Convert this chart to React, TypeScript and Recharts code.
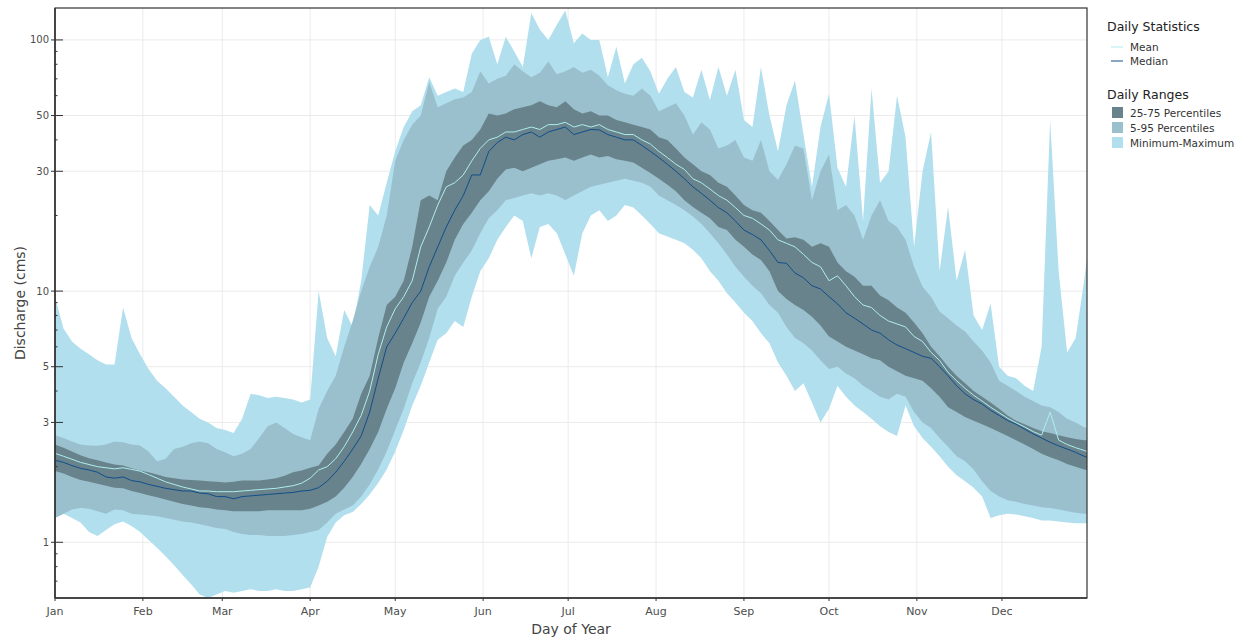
import React from 'react';
import { ComposedChart, Area, Line, XAxis, YAxis, CartesianGrid } from 'recharts';

const days = [
  1, 4, 7, 10, 13, 16, 19, 22, 25, 28,
  31, 34, 37, 40, 43, 46, 49, 52, 55, 58,
  61, 64, 67, 70, 73, 76, 79, 82, 85, 88,
  91, 94, 97, 100, 103, 106, 109, 112, 115, 118,
  121, 124, 127, 130, 133, 136, 139, 142, 145, 148,
  151, 154, 157, 160, 163, 166, 169, 172, 175, 178,
  181, 184, 187, 190, 193, 196, 199, 202, 205, 208,
  211, 214, 217, 220, 223, 226, 229, 232, 235, 238,
  241, 244, 247, 250, 253, 256, 259, 262, 265, 268,
  271, 274, 277, 280, 283, 286, 289, 292, 295, 298,
  301, 304, 307, 310, 313, 316, 319, 322, 325, 328,
  331, 334, 337, 340, 343, 346, 349, 352, 355, 358,
  361, 364, 365,
];

const minimum = [
  1.25, 1.3, 1.25, 1.2, 1.1, 1.06, 1.12, 1.18, 1.21, 1.16,
  1.1, 1.02, 0.95, 0.88, 0.81, 0.74, 0.68, 0.62, 0.6, 0.62,
  0.64, 0.63, 0.64, 0.65, 0.64, 0.64, 0.65, 0.64, 0.64, 0.65,
  0.66, 0.8, 1.05, 1.2, 1.28, 1.32, 1.42, 1.55, 1.72, 1.95,
  2.3, 2.8, 3.5, 4.2, 5.2, 6.4, 6.8, 7.6, 7.2, 9.5,
  12, 13.5, 16, 18, 20, 19, 13.5, 18, 18.5, 17,
  14, 11.5, 17, 20, 21, 19, 20, 22, 21.5, 20,
  18.5, 17, 16.5, 16, 15.5, 14.6, 13.5, 12, 11, 9.8,
  9, 8.2, 7.6, 6.8, 6.2, 5.2, 4.6, 4.0, 4.3, 3.6,
  3.0, 3.4, 4.2, 3.8, 3.5, 3.3, 3.1, 2.9, 2.75, 2.65,
  3.5, 2.9, 2.6, 2.4, 2.2, 2.0, 1.85, 1.75, 1.65, 1.52,
  1.25, 1.28, 1.3, 1.29, 1.27, 1.25, 1.22, 1.22, 1.21, 1.2,
  1.19, 1.19, 1.19,
];

const p5 = [
  1.25, 1.3, 1.35, 1.37, 1.36, 1.33, 1.3, 1.35, 1.34, 1.3,
  1.29, 1.28, 1.27, 1.25, 1.23, 1.21, 1.2, 1.18, 1.16, 1.14,
  1.13, 1.1, 1.08, 1.07, 1.07, 1.06, 1.06, 1.06, 1.07, 1.08,
  1.1, 1.12, 1.2, 1.3, 1.35, 1.4, 1.52, 1.7, 1.95, 2.3,
  2.8, 3.4, 4.3, 5.2, 6.5, 8.5, 9.5, 11.5, 13, 14.5,
  17, 19.5, 21, 23, 23.5, 24, 24.5, 24, 24.5, 24,
  23, 24, 25, 26, 26.5, 27, 27.5, 28, 27.5, 27,
  26, 24, 23, 22, 21, 19.8, 18.5, 17, 15.5, 14,
  12.5, 11.4, 10.5, 9.8, 8.8, 8.2, 7.2, 6.5, 6.2, 5.8,
  5.3, 4.9, 5.0, 4.7, 4.5, 4.2, 4.0, 3.8, 3.7, 3.9,
  3.8, 3.3, 3.0, 2.85, 2.6, 2.4, 2.2, 2.1, 1.95, 1.75,
  1.6, 1.52, 1.47, 1.45, 1.42, 1.4, 1.38, 1.37, 1.35, 1.33,
  1.31, 1.3, 1.3,
];

const p25 = [
  1.92, 1.88, 1.82, 1.77, 1.74, 1.71, 1.68, 1.65, 1.64, 1.6,
  1.57, 1.54, 1.51, 1.48, 1.45, 1.42, 1.4, 1.38, 1.37, 1.35,
  1.34, 1.33, 1.33, 1.33, 1.33, 1.34, 1.34, 1.34, 1.34, 1.34,
  1.36, 1.4, 1.45, 1.52, 1.65, 1.82, 2.05, 2.35, 2.75, 3.4,
  4.1, 5.2, 6.2, 7.5, 9.5, 11, 13, 16, 18.5, 20.5,
  23, 25, 28, 30.5, 31, 30, 31, 32, 33, 33.5,
  34, 33, 34, 35, 34, 34.5, 33.5, 33, 32.5, 31,
  29.5, 28, 26.5, 25, 23, 21.6, 20.5, 19.5, 18, 17.5,
  16, 15, 14, 13.3, 12, 10, 9.3, 8.8, 8.4, 7.9,
  7.3, 6.6, 6.3, 6.0, 5.8, 5.6, 5.4, 5.3, 5.0, 4.8,
  4.6, 4.5, 4.4, 4.1, 3.8, 3.45, 3.3, 3.15, 3.05, 2.95,
  2.85, 2.75, 2.65, 2.55, 2.45, 2.35, 2.25, 2.18, 2.12, 2.05,
  2.0, 1.95, 1.94,
];

const p75 = [
  2.45, 2.38, 2.3, 2.22, 2.16, 2.12, 2.08, 2.04, 2.02, 1.97,
  1.93, 1.9, 1.86, 1.82, 1.8, 1.78, 1.77, 1.76, 1.75, 1.74,
  1.73, 1.74, 1.76, 1.76, 1.76, 1.78, 1.8, 1.84, 1.9, 1.93,
  1.98, 2.02, 2.25, 2.45, 2.75, 3.1, 3.9, 4.6, 6.5, 8.8,
  9.5, 11, 15, 23, 24, 23, 30, 34, 38, 40,
  44, 51, 50, 51, 53, 54, 55, 57, 55, 54,
  57, 53, 51, 52, 50, 50, 48, 47, 46, 45,
  44, 41, 40, 37, 34, 32, 30, 29, 27, 26,
  24, 22, 21, 20.5, 19, 17.5, 16.2, 16.4, 16, 15,
  15.5, 15, 13, 12, 11.4, 10.5, 10.5, 9.6, 9.2, 8.6,
  8.2, 7.5, 6.8, 6.0, 5.5, 5.0, 4.6, 4.3, 4.0, 3.8,
  3.6, 3.4, 3.2, 3.05, 2.95, 2.85, 2.77, 2.72, 2.67, 2.62,
  2.58, 2.55, 2.55,
];

const p95 = [
  2.67, 2.6, 2.52, 2.45, 2.43, 2.42, 2.45, 2.52, 2.5, 2.45,
  2.43, 2.3, 2.1, 2.15, 2.35, 2.4, 2.48, 2.52, 2.48, 2.35,
  2.28, 2.2, 2.25, 2.35, 2.6, 2.9, 3.0, 2.85, 2.7, 2.62,
  2.55, 3.4, 4.0, 4.6, 6.0, 7.6, 10, 12.5, 15, 20,
  33, 40, 46, 50, 68, 54, 56, 58, 59, 62,
  75, 67, 70, 72, 80, 75, 71, 74, 82, 73,
  75, 78, 74, 76, 72, 66, 63, 61, 60, 64,
  60, 52, 54, 56, 50, 42, 47, 44, 37, 38,
  40, 34, 33, 40, 30, 27.7, 32, 38, 37, 23,
  30, 35, 21, 22, 20, 16, 20, 23, 19, 18,
  16, 12.5, 10.4, 9.5, 8.3, 7.8, 7.3, 6.9, 6.3, 5.8,
  5.2, 4.4, 4.2, 4.0, 3.8, 3.65, 3.5, 3.45, 3.3, 3.1,
  3.0, 2.87, 2.85,
];

const maximum = [
  9.5, 7.1, 6.3, 5.9, 5.6, 5.3, 5.1, 5.1, 8.6, 6.5,
  5.6, 4.9, 4.4, 4.1, 3.8, 3.5, 3.3, 3.1, 3.0, 2.85,
  2.8, 2.72, 3.1, 3.9, 3.85, 3.75, 3.8, 3.75, 3.7, 3.6,
  3.7, 10, 6.5, 5.5, 8.4, 7.2, 11, 22, 20, 27,
  36, 45, 52, 55, 71, 60, 62, 64, 62, 88,
  100, 103, 80, 103, 90, 78, 128, 110, 100, 115,
  131, 97, 106, 100, 100, 71, 94, 67, 80, 85,
  75, 61, 70, 78, 62, 59, 76, 57.6, 78, 60,
  76, 48, 45, 78, 50, 36, 55, 69, 42, 26,
  45, 61, 31, 26, 50, 19, 64, 27, 30, 60,
  41, 15, 30, 43, 12, 21.6, 11, 14.6, 8, 7,
  8.9, 5.0, 4.6, 4.5, 4.2, 4.0, 6, 48, 12, 5.7,
  6.5, 11, 13.6,
];

const median = [
  2.12, 2.08, 2.02, 1.97, 1.94, 1.9, 1.82, 1.8, 1.82, 1.76,
  1.74, 1.7, 1.67, 1.64, 1.62, 1.6, 1.6, 1.57, 1.56, 1.52,
  1.52, 1.49, 1.52, 1.53, 1.54, 1.55, 1.56, 1.57, 1.58, 1.6,
  1.61, 1.65, 1.75, 1.9, 2.1, 2.35, 2.65, 3.3, 4.5, 6.0,
  6.8, 7.8, 9.0, 10, 12.5, 15, 18, 21, 24, 29,
  29, 36, 39, 41, 40, 42, 43, 41, 43, 44,
  45, 42, 43, 44, 43.8, 42, 41, 40, 40, 38,
  36, 34, 32, 30, 28, 26, 24.5, 23, 21.5, 20.5,
  19, 17.5, 16.8, 16, 14.5, 13, 12.9, 11.8, 11.3, 10.5,
  10.2, 9.5, 8.9, 8.2, 7.8, 7.4, 7.0, 6.8, 6.4, 6.1,
  5.9, 5.7, 5.5, 5.4, 5.0, 4.6, 4.2, 3.9, 3.7, 3.55,
  3.35, 3.2, 3.05, 2.95, 2.82, 2.7, 2.6, 2.5, 2.42, 2.35,
  2.28, 2.2, 2.18,
];

const mean = [
  2.26, 2.2, 2.14, 2.08, 2.04, 2.0, 1.98, 1.96, 1.98, 1.95,
  1.92, 1.86, 1.8, 1.74, 1.7, 1.66, 1.63, 1.6, 1.6, 1.59,
  1.59, 1.59, 1.6, 1.61, 1.62, 1.63, 1.64, 1.66, 1.68, 1.72,
  1.8, 1.94, 2.0, 2.15, 2.4, 2.75, 3.2, 4.0, 5.6, 7.2,
  8.5, 9.5, 11, 15, 18, 22, 26, 27, 29, 33,
  37, 40, 41, 43, 43, 44, 45, 44, 46, 46,
  47, 45, 46, 45, 46, 44, 43, 42, 42, 40,
  38.5, 36, 34, 32, 30.5, 28, 27, 25.5, 24, 23,
  21.5, 20, 19.5, 18.5, 17.5, 16, 15.5, 15, 14, 13,
  12.5, 11, 11.5, 10.5, 9.5, 8.8, 8.6, 8.0, 7.6, 7.4,
  7.2, 6.6, 6.3, 5.7, 5.3, 4.75, 4.4, 4.1, 3.85, 3.65,
  3.45, 3.28, 3.12, 2.99, 2.88, 2.76, 2.67, 3.3, 2.55, 2.45,
  2.38, 2.32, 2.3,
];

const monthTicks = [1, 32, 60, 91, 121, 152, 182, 213, 244, 274, 305, 335];
const monthLabels = ['Jan', 'Feb', 'Mar', 'Apr', 'May', 'Jun', 'Jul', 'Aug', 'Sep', 'Oct', 'Nov', 'Dec'];
const majorYTicks = [1, 3, 5, 10, 30, 50, 100];
const minorYTicks = [0.7, 0.8, 0.9, 2, 4, 6, 7, 8, 9, 20, 40, 60, 70, 80, 90];

const COLORS = {
  minMax: '#B2DFEE',
  p5p95: '#9AC0CD',
  p25p75: '#68838B',
  mean: '#AFEEEE',
  median: '#104E8B',
};

const data = days.map((day, i) => ({
  day,
  minMax: [minimum[i], maximum[i]],
  p5p95: [p5[i], p95[i]],
  p25p75: [p25[i], p75[i]],
  mean: mean[i],
  median: median[i],
}));

const FONT = '"DejaVu Sans", "Liberation Sans", Arial, sans-serif';

const XTick = (props: any) => {
  const { x, y, payload } = props;
  const idx = monthTicks.indexOf(payload.value);
  return (
    <g>
      <line x1={x} x2={x} y1={y} y2={y + 3} stroke="#333" strokeWidth={1} />
      <text x={x} y={y + 17} textAnchor="middle" fontSize={11} fill="#4d4d4d" fontFamily={FONT}>
        {idx >= 0 ? monthLabels[idx] : ''}
      </text>
    </g>
  );
};

const YTick = (props: any) => {
  const { x, y, payload } = props;
  const v = payload.value;
  const major = majorYTicks.includes(v);
  if (!major) {
    return <line x1={x} x2={x + 2.5} y1={y} y2={y} stroke="#333" strokeWidth={1} />;
  }
  return (
    <g>
      <line x1={x - 4} x2={x + 8} y1={y} y2={y} stroke="#333" strokeWidth={1} />
      <text x={x - 6} y={y + 3.5} textAnchor="end" fontSize={10} fill="#4d4d4d" fontFamily={FONT}>
        {String(v)}
      </text>
    </g>
  );
};

const W = 1247;
const H = 638;
const M = { top: 8, right: 160, bottom: 0, left: 0 };
const YW = 55;
const XH = 40;
const plotL = M.left + YW;
const plotT = M.top;
const plotR = W - M.right;
const plotB = H - M.bottom - XH;

export default function App() {
  return (
    <div style={{ position: 'absolute', left: 0, top: 0, width: W, height: H, background: '#fff' }}>
      <ComposedChart width={W} height={H} data={data} margin={M}>
        <CartesianGrid
          stroke="#ebebeb"
          strokeWidth={1}
          horizontalValues={majorYTicks}
          verticalValues={monthTicks}
        />
        <XAxis
          dataKey="day"
          type="number"
          domain={[1, 365]}
          ticks={monthTicks}
          interval={0}
          allowDataOverflow
          height={XH}
          tickSize={0}
          tickMargin={0}
          tickLine={false}
          axisLine={{ stroke: '#333', strokeWidth: 1.5 }}
          tick={<XTick />}
        />
        <YAxis
          scale="log"
          type="number"
          domain={[0.6, 134]}
          allowDataOverflow
          ticks={[...minorYTicks, ...majorYTicks].sort((a, b) => a - b)}
          interval={0}
          width={YW}
          tickSize={0}
          tickMargin={0}
          tickLine={false}
          axisLine={{ stroke: '#333', strokeWidth: 1.5 }}
          tick={<YTick />}
        />
        <Area
          dataKey="minMax"
          type="linear"
          fill={COLORS.minMax}
          fillOpacity={1}
          stroke="none"
          dot={false}
          activeDot={false}
          isAnimationActive={false}
        />
        <Area
          dataKey="p5p95"
          type="linear"
          fill={COLORS.p5p95}
          fillOpacity={1}
          stroke="none"
          dot={false}
          activeDot={false}
          isAnimationActive={false}
        />
        <Area
          dataKey="p25p75"
          type="linear"
          fill={COLORS.p25p75}
          fillOpacity={1}
          stroke="none"
          dot={false}
          activeDot={false}
          isAnimationActive={false}
        />
        <Line
          dataKey="mean"
          type="linear"
          stroke={COLORS.mean}
          strokeWidth={1}
          dot={false}
          activeDot={false}
          isAnimationActive={false}
        />
        <Line
          dataKey="median"
          type="linear"
          stroke={COLORS.median}
          strokeWidth={1}
          dot={false}
          activeDot={false}
          isAnimationActive={false}
        />
      </ComposedChart>
      <svg
        width={W}
        height={H}
        style={{ position: 'absolute', left: 0, top: 0, pointerEvents: 'none' }}
      >
        <rect
          x={plotL}
          y={plotT}
          width={plotR - plotL}
          height={plotB - plotT}
          fill="none"
          stroke="#333"
          strokeWidth={1.2}
        />
        <text
          x={20}
          y={(plotT + plotB) / 2}
          transform={`rotate(-90 20 ${(plotT + plotB) / 2})`}
          textAnchor="middle"
          dominantBaseline="central"
          fontSize={14}
          fill="#444"
          fontFamily={FONT}
        >
          Discharge (cms)
        </text>
        <text
          x={(plotL + plotR) / 2}
          y={634}
          textAnchor="middle"
          fontSize={14}
          fill="#444"
          fontFamily={FONT}
        >
          Day of Year
        </text>
        <g fontFamily={FONT}>
          <text x={1107} y={31} fontSize={12.5} fill="#222">Daily Statistics</text>
          <line x1={1111} x2={1123} y1={47} y2={47} stroke={COLORS.mean} strokeWidth={1} />
          <text x={1130} y={50.5} fontSize={10.5} fill="#333">Mean</text>
          <line x1={1111} x2={1123} y1={61} y2={61} stroke={COLORS.median} strokeWidth={1} />
          <text x={1130} y={64.5} fontSize={10.5} fill="#333">Median</text>
          <text x={1107} y={98.5} fontSize={12.5} fill="#222">Daily Ranges</text>
          <rect x={1112} y={107} width={11} height={11} fill={COLORS.p25p75} />
          <text x={1130} y={116.5} fontSize={10.5} fill="#333">25-75 Percentiles</text>
          <rect x={1112} y={122} width={11} height={11} fill={COLORS.p5p95} />
          <text x={1130} y={131.5} fontSize={10.5} fill="#333">5-95 Percentiles</text>
          <rect x={1112} y={137} width={11} height={11} fill={COLORS.minMax} />
          <text x={1130} y={146.5} fontSize={10.5} fill="#333">Minimum-Maximum</text>
        </g>
      </svg>
    </div>
  );
}
